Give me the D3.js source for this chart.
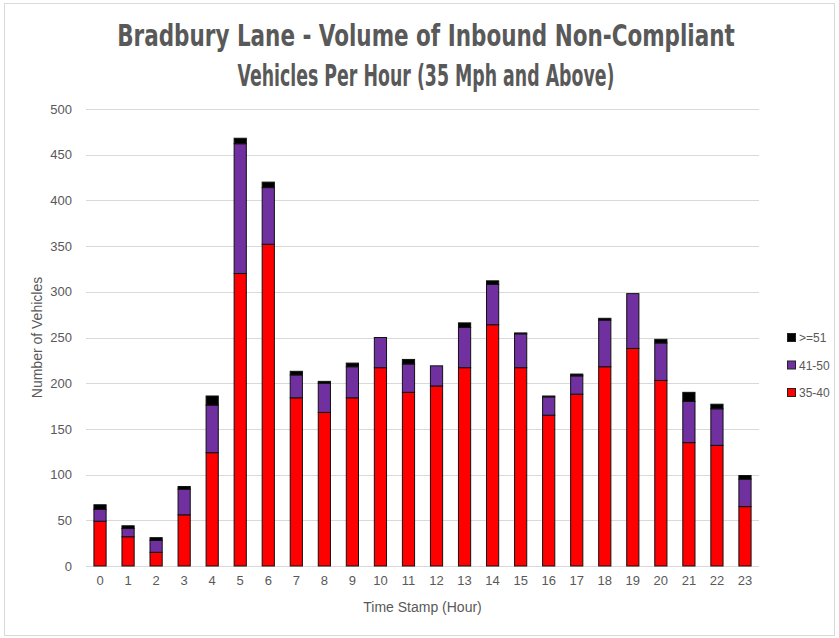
<!DOCTYPE html>
<html>
<head>
<meta charset="utf-8">
<script src="https://cdn.jsdelivr.net/npm/d3@7"></script>
<style>
    body { margin: 0; background: #fff; }
    svg { display: block; }
</style>
</head>
<body>
<div class="chart"></div>
<script>
// data
const hours = ["0","1","2","3","4","5","6","7","8","9","10","11","12","13","14","15","16","17","18","19","20","21","22","23"]
const speed35to40 = [49,32,15,56,124,320,352,184,168,184,217,190,197,217,264,217,165,188,218,238,203,135,132,65]
const speed41to50 = [13,9,13,28,52,142,62,25,32,34,33,31,22,44,44,37,20,20,51,60,41,45,40,30]
const speed51up = [5,3,3,3,10,6,6,4,2,4,0,5,0,5,4,1,1,2,2,0,4,10,5,4]
const seriesNames = ["35-40", "41-50", ">=51"]
const seriesColors = ["#ff0000", "#7030a0", "#000000"]
const yTicks = [0,50,100,150,200,250,300,350,400,450,500]
const titleLines = ["Bradbury Lane - Volume of Inbound Non-Compliant", "Vehicles Per Hour (35 Mph and Above)"]

const W = 839, H = 638
const margin = { top: 109, right: 80, bottom: 72, left: 86 }
const width = W - margin.left - margin.right
const height = H - margin.top - margin.bottom

const svg = d3.select(".chart")
    .append("svg")
    .attr("width", W)
    .attr("height", H)

//outer chart border
svg.append("rect")
    .attr("x", 4.5)
    .attr("y", 3.5)
    .attr("width", W - 9)
    .attr("height", H - 6)
    .attr("fill", "none")
    .attr("stroke", "#d9d9d9")

const g = svg.append("g")
    .attr("transform", `translate(${margin.left}, ${margin.top})`)

const x = d3.scaleBand()
    .domain(hours)
    .range([0, width])
    .paddingInner(0.565)
    .paddingOuter(0.2825)

const y = d3.scaleLinear()
    .domain([0, 500])
    .range([height, 0])

// gridlines
g.selectAll(".grid")
    .data(yTicks)
    .join("line")
    .attr("x1", 0)
    .attr("x2", width)
    .attr("y1", d => Math.round(y(d)) + 0.5)
    .attr("y2", d => Math.round(y(d)) + 0.5)
    .attr("stroke", "#d9d9d9")
    .attr("stroke-width", 1)

// y axis
g.append("g")
    .style("font-family", "'Liberation Sans', Arial, sans-serif")
    .style("font-size", "13px")
    .call(d3.axisLeft(y)
        .tickValues(yTicks)
        .tickSize(0)
        .tickPadding(14))
    .call(ax => ax.select(".domain").remove())
    .selectAll(".tick text")
    .attr("fill", "#595959")

// x axis
g.append("g")
    .attr("transform", `translate(0, ${height})`)
    .style("font-family", "'Liberation Sans', Arial, sans-serif")
    .style("font-size", "13px")
    .call(d3.axisBottom(x)
        .tickSize(0)
        .tickPadding(10))
    .call(ax => ax.select(".domain").remove())
    .selectAll(".tick text")
    .attr("fill", "#595959")

// stack the series
const rows = hours.map((h, i) => ({
    hour: h,
    "35-40": speed35to40[i],
    "41-50": speed41to50[i],
    ">=51": speed51up[i]
}))
const stacked = d3.stack().keys(seriesNames)(rows)

g.selectAll(".series")
    .data(stacked)
    .join("g")
    .attr("fill", (d, i) => seriesColors[i])
    .selectAll("rect")
    .data(d => d.filter(s => s[1] - s[0] > 0))
    .join("rect")
    .attr("x", d => x(d.data.hour))
    .attr("y", d => y(d[1]))
    .attr("width", x.bandwidth())
    .attr("height", d => y(d[0]) - y(d[1]))
    .attr("stroke", "#111")
    .attr("stroke-width", 1)

//chart title, squeezed horizontally to look like a narrow font
const titleWidths = [618, 377]
const titleY = [46, 86]
titleLines.forEach((line, i) => {
    const t = svg.append("text")
        .attr("text-anchor", "middle")
        .attr("x", 0)
        .attr("y", 0)
        .style("font-family", "'DejaVu Sans Condensed', 'Liberation Sans Narrow', sans-serif")
        .style("font-weight", "bold")
        .style("font-size", "30px")
        .attr("fill", "#595959")
        .text(line)
    const natural = t.node().getComputedTextLength()
    t.attr("transform", `translate(426, ${titleY[i]}) scale(${titleWidths[i] / natural}, 1)`)
})

//y axis label
svg.append("text")
    .attr("transform", "rotate(-90)")
    .attr("x", -(margin.top + height / 2))
    .attr("y", 42)
    .style("text-anchor", "middle")
    .style("font-family", "'Liberation Sans', Arial, sans-serif")
    .style("font-size", "14px")
    .attr("fill", "#595959")
    .text("Number of Vehicles")

//x axis label
svg.append("text")
    .attr("x", margin.left + width / 2)
    .attr("y", 612)
    .style("text-anchor", "middle")
    .style("font-family", "'Liberation Sans', Arial, sans-serif")
    .style("font-size", "14px")
    .attr("fill", "#595959")
    .text("Time Stamp (Hour)")

// legend, top entry is the top of the stack
const legendItems = seriesNames.map((n, i) => ({ name: n, color: seriesColors[i] })).reverse()
const legend = svg.append("g")
    .attr("transform", "translate(787, 333)")
const li = legend.selectAll("g")
    .data(legendItems)
    .join("g")
    .attr("transform", (d, i) => `translate(0, ${i * 27.5})`)
li.append("rect")
    .attr("x", 0.5)
    .attr("y", 0.5)
    .attr("width", 8)
    .attr("height", 8)
    .attr("fill", d => d.color)
    .attr("stroke", "#222")
li.append("text")
    .attr("x", 12)
    .attr("y", 9)
    .style("font-family", "'Liberation Sans', Arial, sans-serif")
    .style("font-size", "12px")
    .attr("fill", "#595959")
    .text(d => d.name)
</script>
</body>
</html>
